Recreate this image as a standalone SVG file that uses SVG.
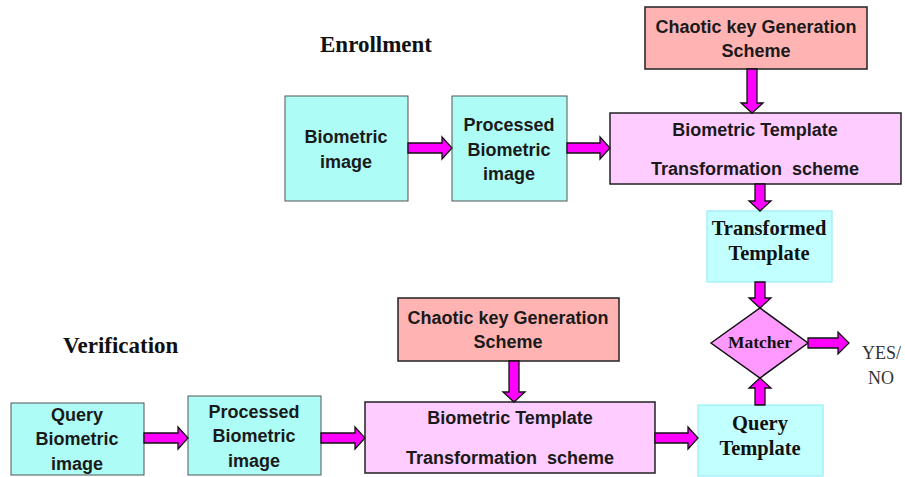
<svg xmlns="http://www.w3.org/2000/svg" width="905" height="477" viewBox="0 0 905 477">
<style>
.bg{fill:#ffffff}
.cy{fill:#aefcf6;stroke:#555;stroke-width:1}
.cy2{fill:#c2ffff;stroke:#a8f0f8;stroke-width:1.5}
.pk{fill:#ffccff;stroke:#222;stroke-width:1.5}
.sal{fill:#ffb3b3;stroke:#222;stroke-width:1.5}
.dia{fill:#ff99ff;stroke:#111;stroke-width:1.5}
.arr{fill:#ff00ff;stroke:#111;stroke-width:1.3;stroke-linejoin:miter}
.t{font-family:"Liberation Sans",Arial,sans-serif;font-weight:bold;font-size:18px;fill:#1a1a1a;text-anchor:middle;white-space:pre}
.s{font-family:"Liberation Serif","Times New Roman",serif;font-weight:bold;font-size:20.5px;fill:#111;text-anchor:middle}
.h{font-family:"Liberation Serif","Times New Roman",serif;font-weight:bold;font-size:23px;fill:#111}
.yn{font-family:"Liberation Serif","Times New Roman",serif;font-size:18px;fill:#333}
</style>
<rect class="bg" width="905" height="477"/>
<text class="h" x="320" y="52">Enrollment</text>
<text class="h" x="63" y="353">Verification</text>
<g id="bio-image">
<rect class="cy" x="285" y="96" width="123" height="105"/>
<text class="t" x="346" y="143">Biometric</text>
<text class="t" x="346" y="168">image</text>
</g>
<g id="proc-image">
<rect class="cy" x="452" y="96" width="115" height="105"/>
<text class="t" x="509" y="131">Processed</text>
<text class="t" x="509" y="156">Biometric</text>
<text class="t" x="509" y="180">image</text>
</g>
<g id="chaotic-top">
<rect class="sal" x="645" y="7" width="222" height="62"/>
<text class="t" x="756" y="33">Chaotic key Generation</text>
<text class="t" x="756" y="57">Scheme</text>
</g>
<g id="template-top">
<rect class="pk" x="610" y="113" width="291" height="71"/>
<text class="t" x="755" y="136">Biometric Template</text>
<text class="t" x="755" y="175" xml:space="preserve">Transformation  scheme</text>
</g>
<g id="transformed">
<rect class="cy2" x="707" y="211" width="125" height="71"/>
<text class="s" x="769" y="235">Transformed</text>
<text class="s" x="769" y="260">Template</text>
</g>
<g id="matcher">
<polygon class="dia" points="711,343 760,308 808,343 760,378"/>
<text class="s" x="760" y="348" style="font-size:17.5px">Matcher</text>
</g>
<g id="yesno">
<text class="yn" x="862" y="359">YES/</text>
<text class="yn" x="868" y="384">NO</text>
</g>
<g id="query-template">
<rect class="cy2" x="698" y="405" width="125" height="71"/>
<text class="s" x="760" y="430">Query</text>
<text class="s" x="760" y="455">Template</text>
</g>
<g id="query-image">
<rect class="cy" x="11" y="403" width="133" height="72"/>
<text class="t" x="77" y="421">Query</text>
<text class="t" x="77" y="445">Biometric</text>
<text class="t" x="77" y="470">image</text>
</g>
<g id="proc-image-2">
<rect class="cy" x="188" y="396" width="133" height="79"/>
<text class="t" x="254" y="418">Processed</text>
<text class="t" x="254" y="442">Biometric</text>
<text class="t" x="254" y="467">image</text>
</g>
<g id="chaotic-bottom">
<rect class="sal" x="398" y="298" width="221" height="63"/>
<text class="t" x="508" y="324">Chaotic key Generation</text>
<text class="t" x="508" y="348">Scheme</text>
</g>
<g id="template-bottom">
<rect class="pk" x="365" y="402" width="290" height="71"/>
<text class="t" x="510" y="424">Biometric Template</text>
<text class="t" x="510" y="464" xml:space="preserve">Transformation  scheme</text>
</g>
<g id="connectors">
<polygon class="arr" points="408,143 442,143 442,137 452,148 442,159 442,153 408,153"/>
<polygon class="arr" points="567,143 600,143 600,137 610,148 600,159 600,153 567,153"/>
<polygon class="arr" points="144,433 178,433 178,427 188,438 178,449 178,443 144,443"/>
<polygon class="arr" points="321,433 355,433 355,427 365,438 355,449 355,443 321,443"/>
<polygon class="arr" points="655,433 688,433 688,427 698,438 688,449 688,443 655,443"/>
<polygon class="arr" points="808,338 838,338 838,332 849,343 838,354 838,348 808,348"/>
<polygon class="arr" points="747,69 757,69 757,103 763,103 752,113 741,103 747,103"/>
<polygon class="arr" points="755,184 765,184 765,201 771,201 760,211 749,201 755,201"/>
<polygon class="arr" points="755,282 765,282 765,298 771,298 760,308 749,298 755,298"/>
<polygon class="arr" points="509,361 519,361 519,392 525,392 514,402 503,392 509,392"/>
<polygon class="arr" points="755,405 765,405 765,388 771,388 760,378 749,388 755,388"/>
</g>
</svg>
